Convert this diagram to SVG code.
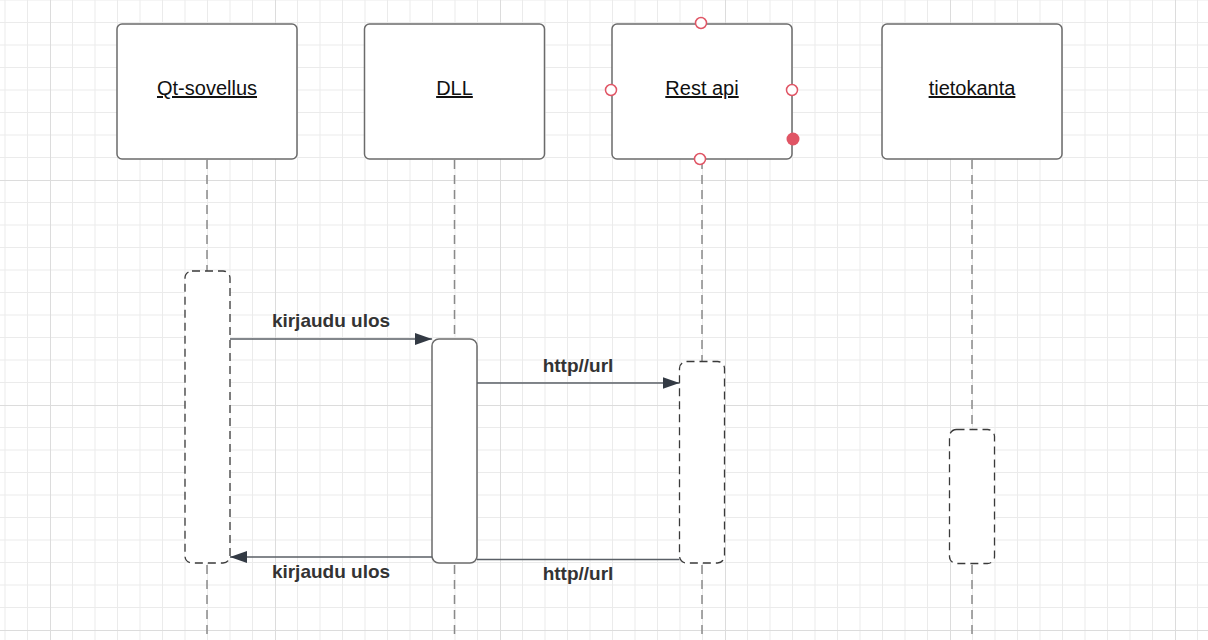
<svg xmlns="http://www.w3.org/2000/svg" width="1208" height="640" viewBox="0 0 1208 640">
<defs>
<pattern id="grid" patternUnits="userSpaceOnUse" x="50" y="180" width="225" height="225">
<path d="M22.5 0V225M45 0V225M67.5 0V225M90 0V225M112.5 0V225M135 0V225M157.5 0V225M180 0V225M202.5 0V225M0 22.5H225M0 45H225M0 67.5H225M0 90H225M0 112.5H225M0 135H225M0 157.5H225M0 180H225M0 202.5H225" stroke="#ebebeb" stroke-width="1" fill="none"/>
<path d="M0 0V225M0 0H225" stroke="#dcdcdc" stroke-width="2" fill="none"/>
</pattern>
<marker id="arr" viewBox="0 0 17 12" refX="17" refY="6" markerWidth="17" markerHeight="12" markerUnits="userSpaceOnUse" orient="auto">
<path d="M0 0L17 6L0 12Z" fill="#333a44"/>
</marker>
<style>
.box{fill:#fff;stroke:#6b6b6b;stroke-width:1.5}
.lbl{font-family:"Liberation Sans",Arial,sans-serif;font-size:20px;fill:#111;text-anchor:middle;text-decoration:underline}
.life{stroke:#8a8a8a;stroke-width:1.5;stroke-dasharray:9 6;fill:none}
.act{fill:#fff;stroke:#3a3a3a;stroke-width:1.3;stroke-dasharray:8 5}
.acts{fill:#fff;stroke:#6b6b6b;stroke-width:1.5}
.msg{stroke:#5a5f66;stroke-width:1.5;fill:none}
.ml{font-family:"Liberation Sans",Arial,sans-serif;font-size:19px;font-weight:bold;fill:#333;text-anchor:middle}
.cp{fill:#fff;stroke:#e05565;stroke-width:1.5}
</style>
</defs>
<rect width="1208" height="640" fill="#fff"/>
<rect width="1208" height="640" fill="url(#grid)"/>

<g id="lifelines">
<line class="life" x1="207" y1="160" x2="207" y2="640"/>
<line class="life" x1="454.5" y1="160" x2="454.5" y2="640"/>
<line class="life" x1="702" y1="160" x2="702" y2="640"/>
<line class="life" x1="972" y1="160" x2="972" y2="640"/>
</g>

<g id="qt">
<rect class="box" x="117" y="24" width="180" height="135" rx="5"/>
<text class="lbl" x="207" y="95">Qt-sovellus</text>
<rect class="act" x="185" y="271" width="45" height="292" rx="7"/>
</g>
<g id="dll">
<rect class="box" x="364.5" y="24" width="180" height="135" rx="5"/>
<text class="lbl" x="454.5" y="95">DLL</text>
<rect class="acts" x="432" y="339" width="45" height="224" rx="7"/>
</g>
<g id="rest">
<rect class="box" x="612" y="24" width="180" height="135" rx="5"/>
<text class="lbl" x="702" y="95">Rest api</text>
<rect class="act" x="679.5" y="361.5" width="45" height="201.5" rx="7"/>
<circle class="cp" cx="701" cy="23" r="5.5"/>
<circle class="cp" cx="611" cy="90" r="5.5"/>
<circle class="cp" cx="792" cy="90" r="5.5"/>
<circle class="cp" cx="700" cy="159" r="5.5"/>
<circle cx="793" cy="139" r="6.5" fill="#e05565"/>
</g>
<g id="tietokanta">
<rect class="box" x="882" y="24" width="180" height="135" rx="5"/>
<text class="lbl" x="972" y="95">tietokanta</text>
<rect class="act" x="949.5" y="429.5" width="45" height="134" rx="7"/>
</g>

<g id="connectors">
<line class="msg" x1="230" y1="339" x2="432" y2="339" marker-end="url(#arr)"/>
<text class="ml" x="331" y="327">kirjaudu ulos</text>
<line class="msg" x1="477" y1="383" x2="679.5" y2="383" marker-end="url(#arr)"/>
<text class="ml" x="578" y="372">http//url</text>
<line class="msg" x1="432" y1="557" x2="230" y2="557" marker-end="url(#arr)"/>
<text class="ml" x="331" y="578">kirjaudu ulos</text>
<line class="msg" x1="679.5" y1="559.5" x2="477" y2="559.5"/>
<text class="ml" x="578" y="580">http//url</text>
</g>
</svg>
